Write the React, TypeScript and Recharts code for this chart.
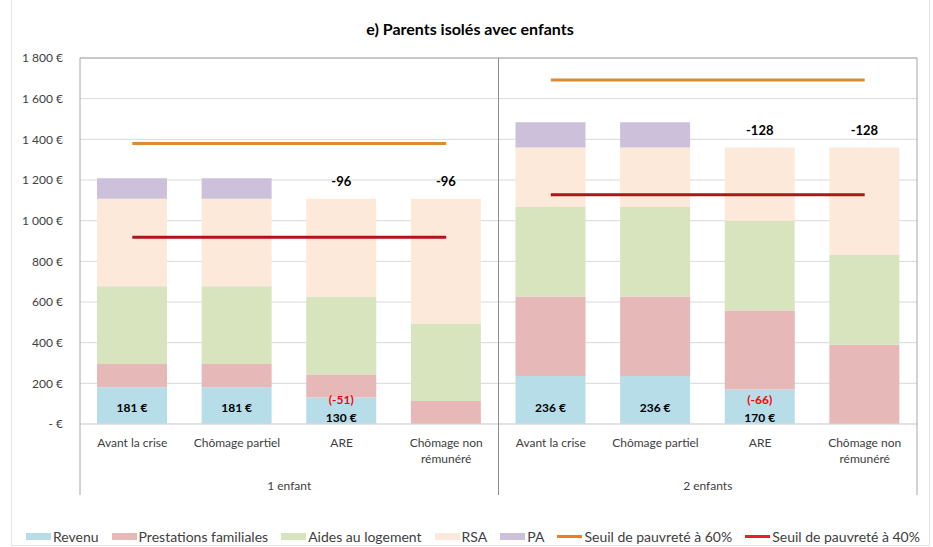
import React from 'react';
import { ComposedChart, Bar, Line, XAxis, YAxis, CartesianGrid, LabelList, ReferenceLine } from 'recharts';

// Catégories (2 groupes de 4 situations)
const categories = [
  'Avant la crise', 'Chômage partiel', 'ARE', 'Chômage non|rémunéré',
  'Avant la crise', 'Chômage partiel', 'ARE', 'Chômage non|rémunéré',
];
const groups = ['1 enfant', '2 enfants'];

// Composantes du revenu disponible (€ / mois)
const revenu = [181, 181, 130, 0, 236, 236, 170, 0];
const prestations = [114, 114, 114, 113, 391, 391, 388, 390];
const aides = [383, 383, 381, 380, 440, 440, 442, 443];
const rsa = [430, 430, 483, 615, 293, 293, 360, 527];
const pa = [101, 101, 0, 0, 124, 124, 0, 0];

// Seuils de pauvreté par groupe
const seuil60 = [1380, 1692];
const seuil40 = [918, 1128];

// Étiquettes
const revenuLabels = ['181 €', '181 €', '130 €', '', '236 €', '236 €', '170 €', ''];
const deltaLabels = ['', '', '(-51)', '', '', '', '(-66)', ''];
const topLabels = ['', '', '-96', '-96', '', '', '-128', '-128'];

const yTicks = [0, 200, 400, 600, 800, 1000, 1200, 1400, 1600, 1800];

const FONT = 'Lato, "Open Sans", sans-serif';
const W = 933;
const H = 547;
const PLOT_LEFT = 80;
const PLOT_RIGHT = 917;
const PLOT_TOP = 58;
const PLOT_BOTTOM = 424;
const BAND = (PLOT_RIGHT - PLOT_LEFT) / categories.length;

const colors = {
  revenu: '#b7dde8',
  prestations: '#e6b9b8',
  aides: '#d7e4bd',
  rsa: '#fde9d9',
  pa: '#ccc0da',
  s60: '#d98c33',
  s40: '#b0141b',
  s60Legend: '#f47b20',
  s40Legend: '#ee1c25',
};

const data = categories.map((c, i) => {
  const g = i < 4 ? 0 : 1;
  return {
    id: String(i),
    revenu: revenu[i],
    prestations: prestations[i],
    aides: aides[i],
    rsa: rsa[i],
    pa: pa[i],
    s60a: g === 0 ? seuil60[0] : null,
    s60b: g === 1 ? seuil60[1] : null,
    s40a: g === 0 ? seuil40[0] : null,
    s40b: g === 1 ? seuil40[1] : null,
  };
});

const fmtEuro = (v: number) => {
  if (v === 0) return '-  €';
  return v.toString().replace(/\B(?=(\d{3})+(?!\d))/g, ' ') + ' €';
};

const CategoryTick = (props: any) => {
  const { x, y, payload } = props;
  const i = payload.index;
  const lines = categories[i].split('|');
  const below = 71;
  return (
    <g>
      {lines.map((l, k) => (
        <text key={k} x={x} y={y + 23 + k * 16} textAnchor="middle" fontSize={12} fill="#404040" fontFamily={FONT}>
          {l}
        </text>
      ))}
      {i % 4 === 0 && (
        <text x={x + BAND * 1.5} y={y + 66} textAnchor="middle" fontSize={12} fill="#404040" fontFamily={FONT}>
          {groups[i / 4]}
        </text>
      )}
      {i === 0 && <line x1={x - BAND / 2} x2={x - BAND / 2} y1={y} y2={y + below} stroke="#a6a6a6" />}
      {i === 3 && (
        <line x1={x + BAND / 2} x2={x + BAND / 2} y1={y - (PLOT_BOTTOM - PLOT_TOP)} y2={y + below} stroke="#8c8c8c" />
      )}
      {i === 7 && (
        <line x1={x + BAND / 2} x2={x + BAND / 2} y1={y - (PLOT_BOTTOM - PLOT_TOP)} y2={y + below} stroke="#a6a6a6" />
      )}
    </g>
  );
};

// value = id de la catégorie
const RevenuLabel = (props: any) => {
  const { x, y, width, height, value } = props;
  const i = Number(value);
  const txt = revenuLabels[i];
  const delta = deltaLabels[i];
  if (!txt) return null;
  const bottom = y + height;
  return (
    <g>
      <text x={x + width / 2} y={delta ? bottom - 6 : bottom - 16} dy="0.35em" textAnchor="middle" fontSize={12}
        fontWeight="bold" fill="#000" fontFamily={FONT}>
        {txt}
      </text>
      {delta && (
        <text x={x + width / 2} y={bottom - 24} dy="0.35em" textAnchor="middle" fontSize={12}
          fontWeight="bold" fill="#ff0000" fontFamily={FONT}>
          {delta}
        </text>
      )}
    </g>
  );
};

const TopLabel = (props: any) => {
  const { x, y, width, value } = props;
  const txt = topLabels[Number(value)];
  if (!txt) return null;
  return (
    <text x={x + width / 2} y={y - 17} dy="0.35em" textAnchor="middle" fontSize={13}
      fontWeight="bold" fill="#000" fontFamily={FONT}>
      {txt}
    </text>
  );
};

const legendItems = [
  { label: 'Revenu', color: colors.revenu, type: 'bar' },
  { label: 'Prestations familiales', color: colors.prestations, type: 'bar' },
  { label: 'Aides au logement', color: colors.aides, type: 'bar' },
  { label: 'RSA', color: colors.rsa, type: 'bar' },
  { label: 'PA', color: colors.pa, type: 'bar' },
  { label: 'Seuil de pauvreté à 60%', color: colors.s60Legend, type: 'line' },
  { label: 'Seuil de pauvreté à 40%', color: colors.s40Legend, type: 'line' },
];

export default function App() {
  return (
    <div style={{ position: 'absolute', left: 0, top: 0, width: W, height: H, background: '#fff', fontFamily: FONT }}>
      <div style={{ position: 'absolute', left: 11, top: 0, width: 919, height: H - 1, border: '1px solid #e4e4e4', borderTop: 'none', boxSizing: 'border-box' }} />
      <div style={{ position: 'absolute', left: 0, width: 940, top: 19, textAlign: 'center', fontSize: 16, fontWeight: 'bold', color: '#000' }}>
        e) Parents isolés avec enfants
      </div>
      <ComposedChart
        width={W}
        height={H}
        data={data}
        margin={{ top: PLOT_TOP, right: W - PLOT_RIGHT, left: 10, bottom: 43 }}
        barGap={0}
        style={{ position: 'absolute', left: 0, top: 0 }}
      >
        <CartesianGrid vertical={false} stroke="#d9d9d9" />
        <ReferenceLine y={1800} stroke="#a6a6a6" />
        <XAxis
          dataKey="id"
          height={80}
          interval={0}
          tickLine={false}
          tickSize={0}
          tickMargin={0}
          axisLine={{ stroke: '#d9d9d9' }}
          tick={<CategoryTick />}
        />
        <YAxis
          width={70}
          domain={[0, 1800]}
          ticks={yTicks}
          interval={0}
          tickLine={false}
          tickSize={0}
          tickMargin={17}
          axisLine={{ stroke: '#a6a6a6' }}
          tickFormatter={fmtEuro}
          tick={{ fontSize: 12, fill: '#404040', fontFamily: FONT }}
        />
        <Bar dataKey="revenu" stackId="a" fill={colors.revenu} barSize={70} isAnimationActive={false}>
          <LabelList dataKey="id" content={<RevenuLabel />} />
        </Bar>
        <Bar dataKey="prestations" stackId="a" fill={colors.prestations} barSize={70} isAnimationActive={false} />
        <Bar dataKey="aides" stackId="a" fill={colors.aides} barSize={70} isAnimationActive={false} />
        <Bar dataKey="rsa" stackId="a" fill={colors.rsa} barSize={70} isAnimationActive={false}>
          <LabelList dataKey="id" content={<TopLabel />} />
        </Bar>
        <Bar dataKey="pa" stackId="a" fill={colors.pa} barSize={70} isAnimationActive={false} />
        <Line dataKey="s60a" type="linear" stroke={colors.s60} strokeWidth={3} dot={false} activeDot={false} isAnimationActive={false} />
        <Line dataKey="s60b" type="linear" stroke={colors.s60} strokeWidth={3} dot={false} activeDot={false} isAnimationActive={false} />
        <Line dataKey="s40a" type="linear" stroke={colors.s40} strokeWidth={3} dot={false} activeDot={false} isAnimationActive={false} />
        <Line dataKey="s40b" type="linear" stroke={colors.s40} strokeWidth={3} dot={false} activeDot={false} isAnimationActive={false} />
      </ComposedChart>
      <div style={{ position: 'absolute', left: 26, top: 528, display: 'flex', alignItems: 'center', fontSize: 14, color: '#404040', whiteSpace: 'nowrap' }}>
        {legendItems.map((it) => (
          <div key={it.label} style={{ display: 'flex', alignItems: 'center', marginRight: 13 }}>
            <span style={{ display: 'inline-block', width: 25, height: it.type === 'bar' ? 7 : 2.5, background: it.color, marginRight: 2 }} />
            <span>{it.label}</span>
          </div>
        ))}
      </div>
    </div>
  );
}
